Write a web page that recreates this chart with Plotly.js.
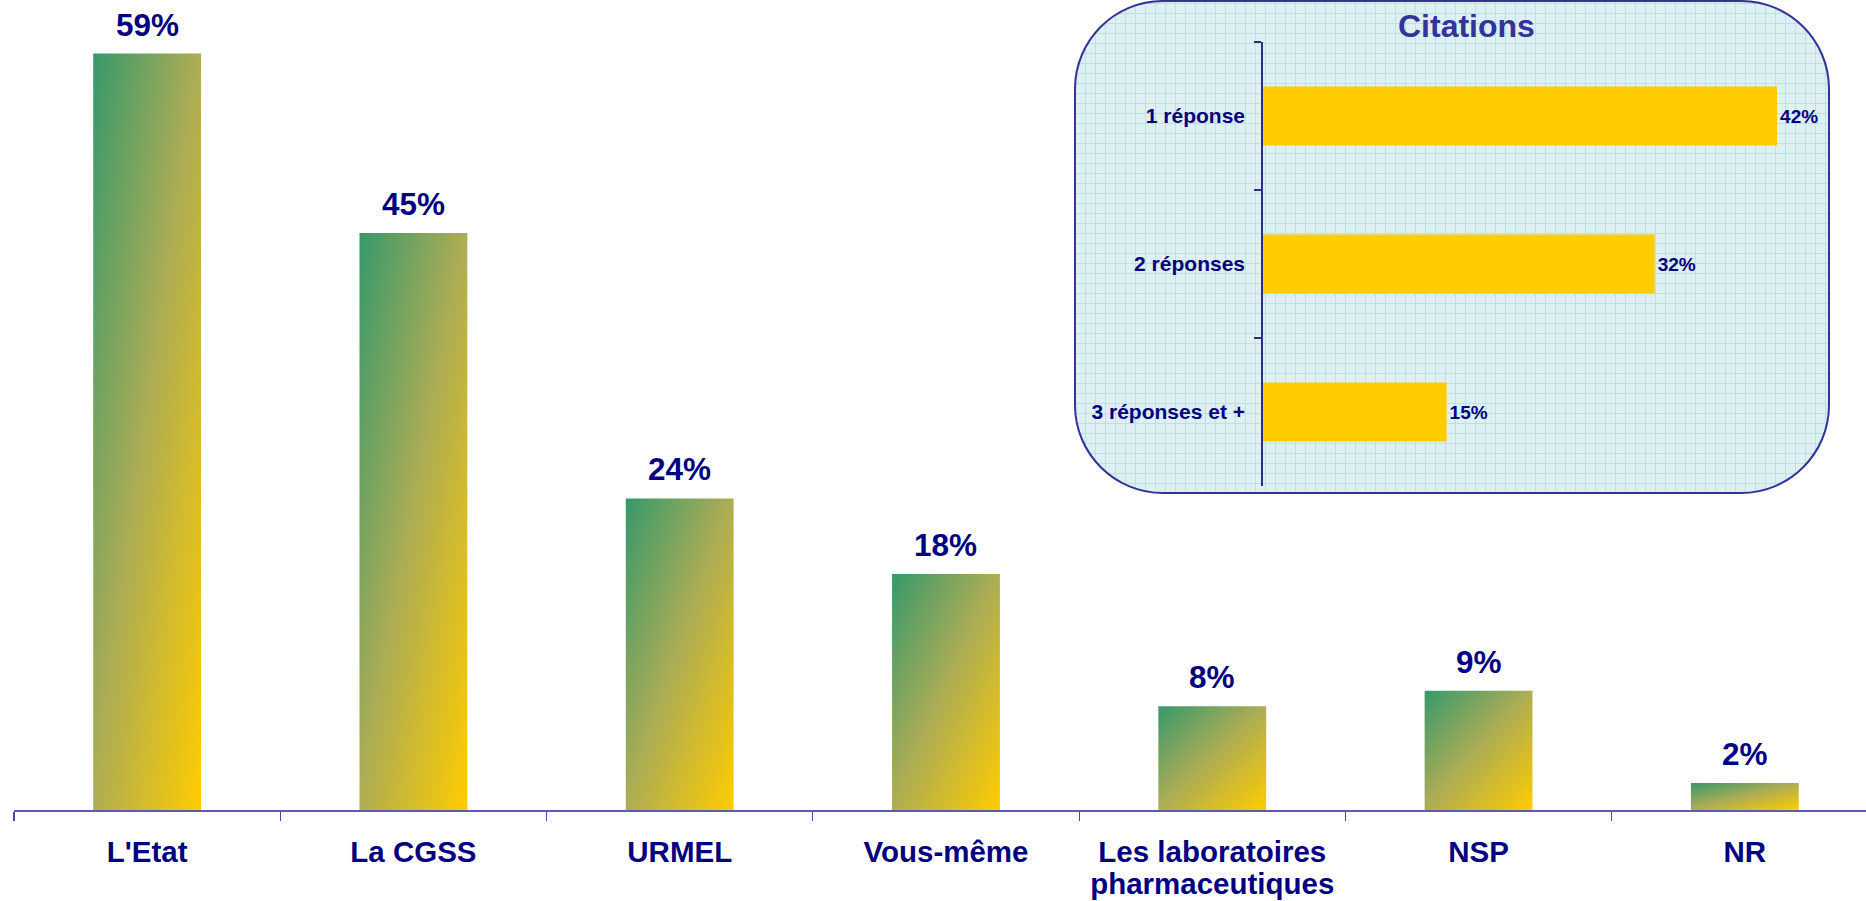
<!DOCTYPE html>
<html>
<head>
<meta charset="utf-8">
<script src="https://cdn.plot.ly/plotly-3.0.1.min.js"></script>
<style>
  html, body { margin: 0; padding: 0; background: #ffffff; }
  #chart { width: 1866px; height: 901px; }
</style>
</head>
<body>
<div id="chart"></div>
<script>
// ---- data ----
const categories = ["L'Etat", "La CGSS", "URMEL", "Vous-même", "Les laboratoires<br>pharmaceutiques", "NSP", "NR"];
const values = [59, 45, 24.3, 18.4, 8.1, 9.3, 2.1];
const valueLabels = ["59%", "45%", "24%", "18%", "8%", "9%", "2%"];

const citCategories = ["1 réponse", "2 réponses", "3 réponses et +"];
const citValues = [42, 32, 15];
const citLabels = ["42%", "32%", "15%"];

const insetTitle = "Citations";

// ---- geometry helpers (pixel -> paper) ----
const W = 1866, H = 901;
const ML = 14, MR = 0, MT = 0, MB = 91;
const PW = W - ML - MR, PH = H - MT - MB;
const px = v => (v - ML) / PW;
const py = v => (PH + MT - v) / PH;

const NAVY = "#000080";
const BLUE = "#333399";
const FONT = "Liberation Sans, Arial, sans-serif";

// category tick labels: glyphs at 29.5px, line spacing of a 24px font (tighter lines)
const tickText = categories.map(c =>
  c.split("<br>").map(l => '<span style="font-size:29.5px">' + l + "</span>").join("<br>"));

// rounded box path for the inset (in paper units)
function roundedBox(L, T, R, B, r) {
  const k = 0.5523 * r;
  const p = (x, y) => px(x).toFixed(5) + "," + py(y).toFixed(5);
  return "M" + p(L + r, T) +
    " L" + p(R - r, T) +
    " C" + p(R - r + k, T) + " " + p(R, T + r - k) + " " + p(R, T + r) +
    " L" + p(R, B - r) +
    " C" + p(R, B - r + k) + " " + p(R - r + k, B) + " " + p(R - r, B) +
    " L" + p(L + r, B) +
    " C" + p(L + r - k, B) + " " + p(L, B - r + k) + " " + p(L, B - r) +
    " L" + p(L, T + r) +
    " C" + p(L, T + r - k) + " " + p(L + r - k, T) + " " + p(L + r, T) + " Z";
}

const mainTrace = {
  type: "bar",
  x: categories,
  y: values,
  xaxis: "x",
  yaxis: "y",
  width: 0.405,
  marker: { color: "#8fae4e", line: { width: 0 } },
  hoverinfo: "skip",
  showlegend: false
};

const insetTrace = {
  type: "bar",
  orientation: "h",
  y: citCategories,
  x: citValues,
  xaxis: "x2",
  yaxis: "y2",
  width: 0.4,
  marker: { color: "#ffcc00", line: { width: 0 } },
  text: citLabels,
  textposition: "outside",
  cliponaxis: false,
  textfont: { family: FONT, size: 19, color: NAVY, weight: 700 },
  hoverinfo: "skip",
  showlegend: false
};

const annotations = categories.map((c, i) => ({
  x: c, y: values[i], xref: "x", yref: "y",
  text: valueLabels[i], showarrow: false,
  yanchor: "bottom", yshift: 9,
  font: { family: FONT, size: 31.5, color: NAVY, weight: 700 }
}));
annotations.push({
  x: px(1466), y: py(26), xref: "paper", yref: "paper",
  text: insetTitle, showarrow: false, xanchor: "center", yanchor: "middle",
  font: { family: FONT, size: 32, color: BLUE, weight: 700 }
});

const layout = {
  width: W, height: H,
  margin: { l: ML, r: MR, t: MT, b: MB, pad: 0 },
  paper_bgcolor: "#ffffff",
  plot_bgcolor: "rgba(0,0,0,0)",
  showlegend: false,
  xaxis: {
    type: "category",
    domain: [0, 1],
    range: [-0.5, 6.455],
    showline: true, linecolor: "#5c5ca8", linewidth: 1.5,
    ticks: "outside", tickson: "boundaries", ticklen: 9, tickwidth: 1.2, tickcolor: "#4a4a9a",
    tickmode: "array", tickvals: categories, ticktext: tickText,
    ticklabelstandoff: 22,
    showgrid: false, zeroline: false,
    tickfont: { family: FONT, size: 24, color: NAVY, weight: 700 },
    fixedrange: true
  },
  yaxis: {
    range: [0, 810 / 12.82],
    visible: false, showgrid: false, zeroline: false, fixedrange: true
  },
  xaxis2: {
    domain: [px(1263), px(1263 + 45 * 12.24)],
    range: [0, 45],
    anchor: "y2",
    visible: false, showgrid: false, zeroline: false, fixedrange: true
  },
  yaxis2: {
    type: "category",
    domain: [py(486), py(42)],
    range: [2.5, -0.5],
    anchor: "x2",
    showline: true, linecolor: "#2e2e8a", linewidth: 1.8,
    ticks: "outside", tickson: "boundaries", ticklen: 7, tickwidth: 1.5, tickcolor: "#2e2e8a",
    ticklabelstandoff: 12,
    showgrid: false, zeroline: false,
    tickfont: { family: FONT, size: 21, color: NAVY, weight: 700 },
    fixedrange: true
  },
  shapes: [{
    type: "path",
    xref: "paper", yref: "paper",
    path: roundedBox(1075, 1, 1829, 493, 88),
    fillcolor: "#dcefF1",
    line: { color: BLUE, width: 2 },
    layer: "below"
  }],
  annotations: annotations
};

Plotly.newPlot("chart", [mainTrace, insetTrace], layout, { displayModeBar: false, staticPlot: true }).then(gd => {
  const svg = gd.querySelector("svg.main-svg");
  const NS = "http://www.w3.org/2000/svg";
  let defs = svg.querySelector("defs");
  if (!defs) { defs = document.createElementNS(NS, "defs"); svg.insertBefore(defs, svg.firstChild); }

  // gradient for the main bars
  const lg = document.createElementNS(NS, "linearGradient");
  lg.setAttribute("id", "barGrad");
  lg.setAttribute("x1", "0"); lg.setAttribute("y1", "0");
  lg.setAttribute("x2", "1"); lg.setAttribute("y2", "1");
  [["0", "#36996b"], ["0.48", "#abac55"], ["1", "#ffcc00"]].forEach(([o, c]) => {
    const s = document.createElementNS(NS, "stop");
    s.setAttribute("offset", o); s.setAttribute("stop-color", c);
    lg.appendChild(s);
  });
  defs.appendChild(lg);

  // graph-paper pattern for the inset box
  const pat = document.createElementNS(NS, "pattern");
  pat.setAttribute("id", "gridPat");
  pat.setAttribute("patternUnits", "userSpaceOnUse");
  pat.setAttribute("width", "10"); pat.setAttribute("height", "10");
  pat.setAttribute("x", "1075"); pat.setAttribute("y", "3");
  const bg = document.createElementNS(NS, "rect");
  bg.setAttribute("width", "10"); bg.setAttribute("height", "10"); bg.setAttribute("fill", "#dff0f2");
  pat.appendChild(bg);
  const gl = document.createElementNS(NS, "path");
  gl.setAttribute("d", "M0,0.5 H10 M0.5,0 V10");
  gl.setAttribute("stroke", "#bde0e0"); gl.setAttribute("stroke-width", "1"); gl.setAttribute("fill", "none");
  pat.appendChild(gl);
  defs.appendChild(pat);

  gd.querySelectorAll(".subplot.xy .trace.bars path").forEach(p => {
    p.style.fill = "url(#barGrad)";
    p.style.fillOpacity = "1";
  });
  gd.querySelectorAll(".shapelayer path").forEach(p => {
    p.style.fill = "url(#gridPat)";
    p.style.fillOpacity = "1";
  });
});
</script>
</body>
</html>
